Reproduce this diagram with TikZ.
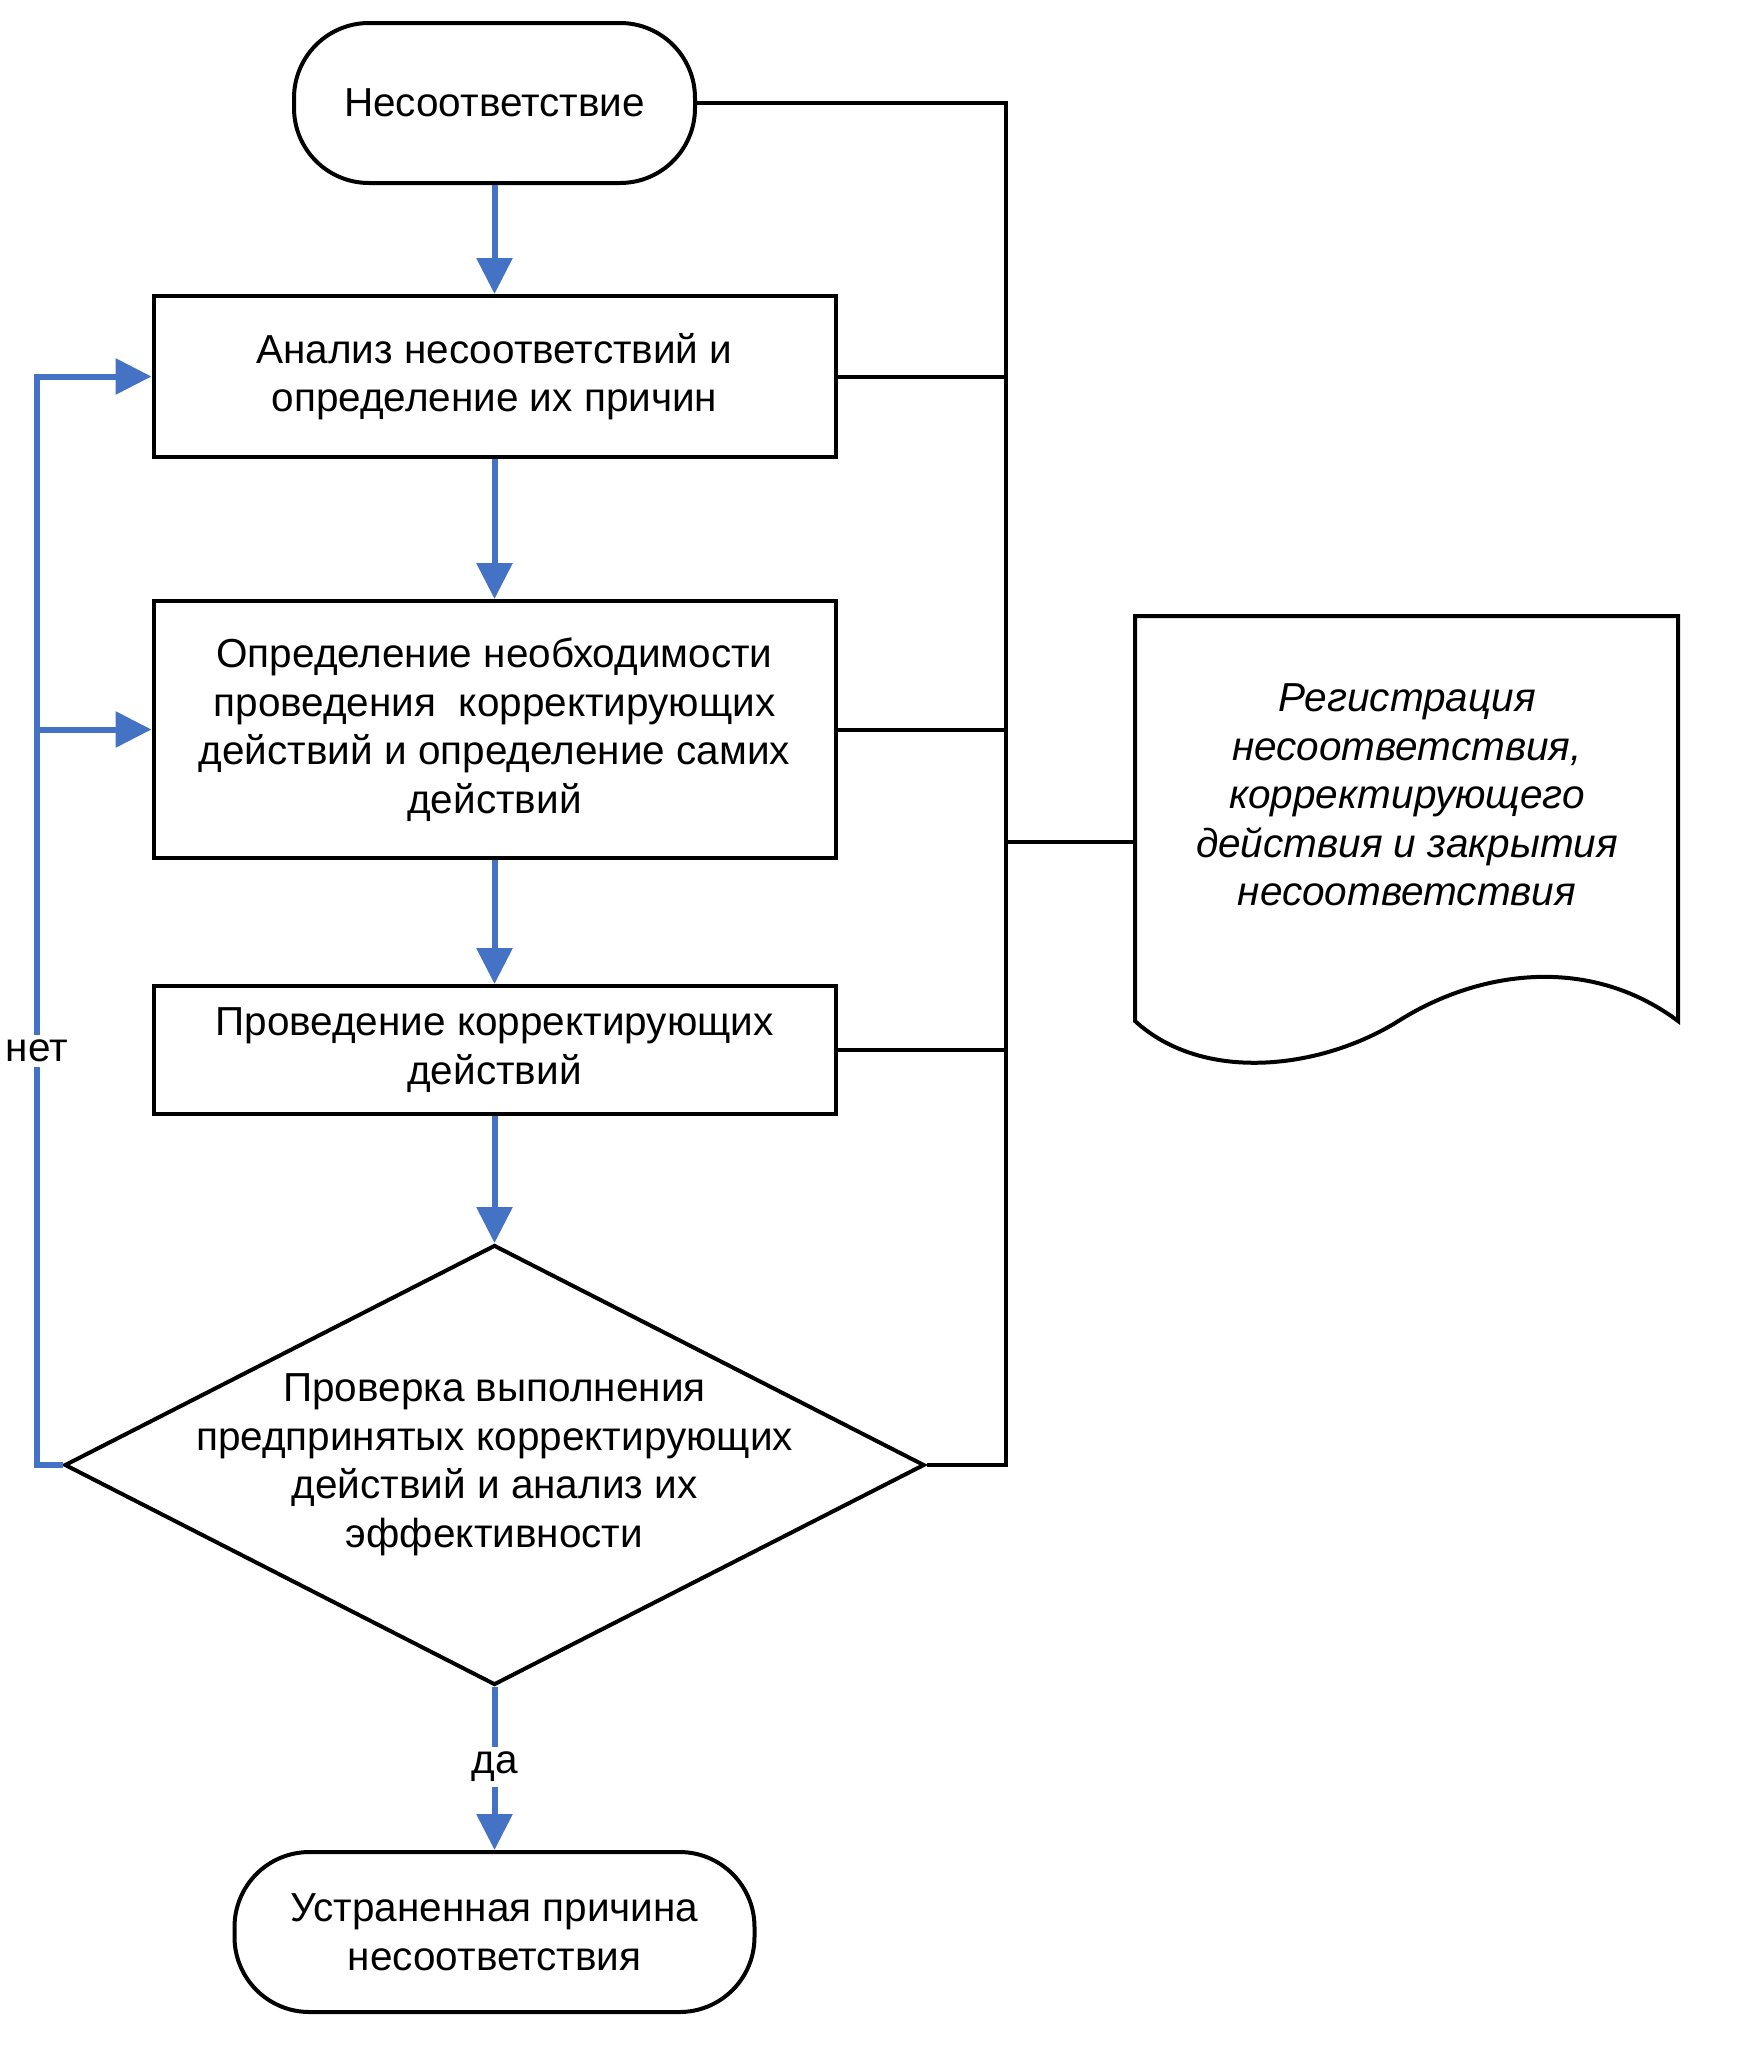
\documentclass[tikz,border=0pt]{standalone}
\usepackage{fontspec}
\setmainfont{Liberation Sans}
\usetikzlibrary{arrows.meta,shapes.geometric}
\definecolor{flowblue}{HTML}{4472C4}
\begin{document}
\begin{tikzpicture}[x=1pt,y=-1pt,
  font=\fontsize{40.5}{48.5}\selectfont,
  blk/.style={draw=black,line width=4pt,fill=white},
  procbox/.style={blk,rectangle,minimum width=682pt,align=center,inner sep=0pt},
  term/.style={blk,rectangle,rounded corners=75pt,align=center,inner sep=0pt},
  arr/.style={draw=flowblue,line width=6pt,-{Triangle[length=36pt,width=35pt]}},
  bline/.style={draw=flowblue,line width=6pt},
  kline/.style={draw=black,line width=4pt},
  lbl/.style={fill=white,inner sep=5pt}
]
\useasboundingbox (0,0) rectangle (1763,2048);

% nodes
\node[term,minimum width=401pt,minimum height=160pt] (start) at (494.5,103) {Несоответствие};
\node[procbox,minimum height=161pt] (a1) at (494.5,376.5) {Анализ несоответствий и\\определение их причин};
\node[procbox,minimum height=257pt] (a2) at (494.5,729.5) {Определение необходимости\\проведения~ корректирующих\\действий и определение самих\\действий};
\node[procbox,minimum height=128pt] (a3) at (494.5,1050) {Проведение корректирующих\\действий};
\node[blk,diamond,minimum width=860pt,minimum height=440pt,inner sep=0pt] (chk) at (494.5,1465) {};
\node[align=center] (chktext) at (chk.center) {Проверка выполнения\\предпринятых корректирующих\\действий и анализ их\\эффективности};
\node[term,minimum width=520pt,minimum height=160pt] (end) at (494.5,1932) {Устраненная причина\\несоответствия};

% document shape
\draw[kline,line join=miter] (1135,1021) -- (1135,616) -- (1678,616) -- (1678,1021)
  .. controls (1590,955) and (1480,970) .. (1400,1020)
  .. controls (1325,1068) and (1205,1085) .. (1135,1021) -- cycle;
\node[align=center,font=\fontsize{40.5}{48.5}\selectfont\itshape] (doc) at (1407,795) {Регистрация\\несоответствия,\\корректирующего\\действия и закрытия\\несоответствия};
\coordinate (docw) at (1135,842);

% right bus
\coordinate (busT) at (1006,103);
\coordinate (busB) at (1006,1465);
\draw[kline] (start.east) -- (busT) -- (busB) -- (chk.east);
\draw[kline] (a1.east) -- (a1.east -| busT);
\draw[kline] (a2.east) -- (a2.east -| busT);
\draw[kline] (a3.east) -- (a3.east -| busT);
\draw[kline] (busT |- docw) -- (docw);

% main flow
\draw[arr] (start.south) -- (a1.north);
\draw[arr] (a1.south) -- (a2.north);
\draw[arr] (a2.south) -- (a3.north);
\draw[arr] (a3.south) -- (chk.north);
\draw[arr] (chk.south) -- (end.north);
\node[lbl] (da) at (494.5,1767) {да};

% loop back
\coordinate (loopB) at (37,1465);
\draw[arr] (chk.west) -- (loopB) -- (loopB |- a1.west) -- (a1.west);
\draw[arr] (loopB |- a2.west) -- (a2.west);
\node[lbl] (net) at (37,1051) {нет};
\end{tikzpicture}
\end{document}
